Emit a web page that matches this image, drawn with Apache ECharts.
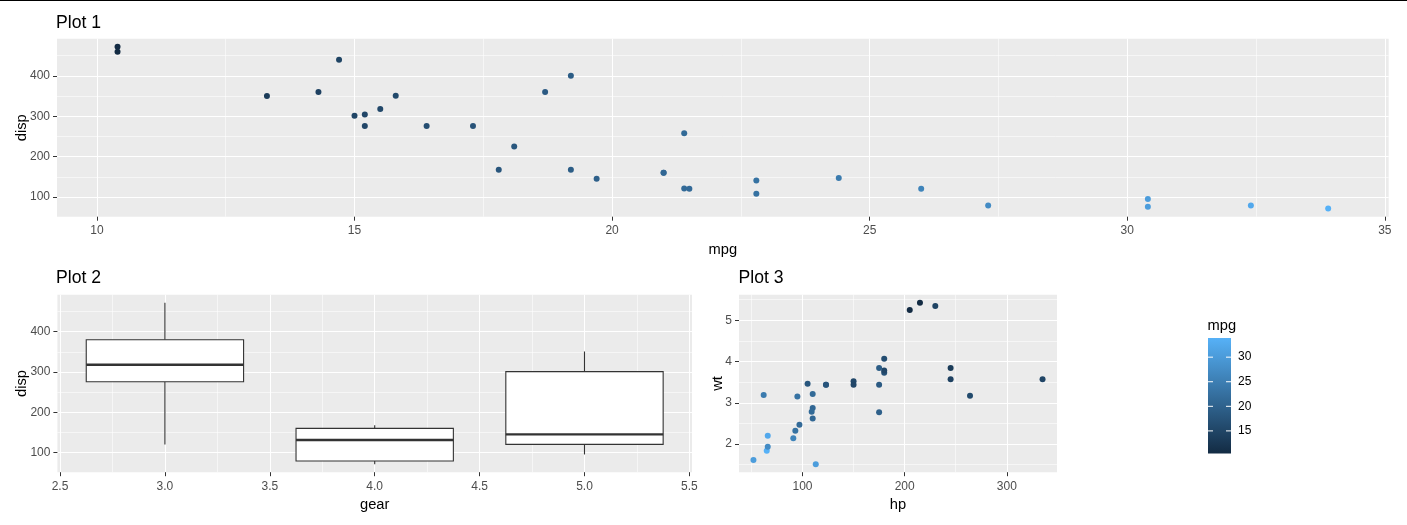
<!DOCTYPE html>
<html>
<head>
<meta charset="utf-8">
<script src="https://cdn.jsdelivr.net/npm/echarts@6/dist/echarts.min.js"></script>
<style>
  html, body { margin: 0; padding: 0; background: #fff; }
  #chart { width: 1407px; height: 525px; }
</style>
</head>
<body>
<div id="chart"></div>
<script>
// mtcars columns (row order of the dataset)
const mpg = [21.0, 21.0, 22.8, 21.4, 18.7, 18.1, 14.3, 24.4, 22.8, 19.2, 17.8, 16.4, 17.3, 15.2, 10.4, 10.4,
             14.7, 32.4, 30.4, 33.9, 21.5, 15.5, 15.2, 13.3, 19.2, 27.3, 26.0, 30.4, 15.8, 19.7, 15.0, 21.4];
const disp = [160, 160, 108, 258, 360, 225, 360, 146.7, 140.8, 167.6, 167.6, 275.8, 275.8, 275.8, 472, 460,
              440, 78.7, 75.7, 71.1, 120.1, 318, 304, 350, 400, 79, 120.3, 95.1, 351, 145, 301, 121];
const hp = [110, 110, 93, 110, 175, 105, 245, 62, 95, 123, 123, 180, 180, 180, 205, 215,
            230, 66, 52, 65, 97, 150, 150, 245, 175, 66, 91, 113, 264, 175, 335, 109];
const wt = [2.620, 2.875, 2.320, 3.215, 3.440, 3.460, 3.570, 3.190, 3.150, 3.440, 3.440, 4.070, 3.730, 3.780, 5.250, 5.424,
            5.345, 2.200, 1.615, 1.835, 2.465, 3.520, 3.435, 3.840, 3.845, 1.935, 2.140, 1.513, 3.170, 2.770, 3.570, 2.780];
const gear = [4, 4, 4, 3, 3, 3, 3, 4, 4, 4, 4, 3, 3, 3, 3, 3, 3, 4, 4, 4, 3, 3, 3, 3, 3, 4, 5, 5, 5, 5, 5, 4];
const gearLevels = [3, 4, 5];

// tick labels / grid lines
const p1XTicks = [10, 15, 20, 25, 30, 35];
const p1XMinor = [12.5, 17.5, 22.5, 27.5, 32.5];
const dispTicks = [100, 200, 300, 400];
const dispMinor = [150, 250, 350, 450];
const gearTicks = [2.5, 3, 3.5, 4, 4.5, 5, 5.5];
const gearMinor = [2.75, 3.25, 3.75, 4.25, 4.75, 5.25];
const hpTicks = [100, 200, 300];
const hpMinor = [50, 150, 250];
const wtTicks = [2, 3, 4, 5];
const wtMinor = [1.5, 2.5, 3.5, 4.5, 5.5];
const legendTicks = [15, 20, 25, 30];

const LOW = "#132B43", HIGH = "#56B1F7";
const FONT = "Liberation Sans, Arial, sans-serif";
const BOX_WIDTH = 0.75;

// ggplot-like 5% range expansion
function expand(lo, hi) {
    const pad = (hi - lo) * 0.05;
    return [lo - pad, hi + pad];
}
function quantile(sorted, p) {
    const h = (sorted.length - 1) * p;
    const lo = Math.floor(h);
    const next = lo + 1 < sorted.length ? sorted[lo + 1] : sorted[lo];
    return sorted[lo] + (h - lo) * (next - sorted[lo]);
}

// box stats per gear: [gear, lower whisker, q1, median, q3, upper whisker]
const boxStats = gearLevels.map(g => {
    const v = disp.filter((d, i) => gear[i] === g).sort((a, b) => a - b);
    const q1 = quantile(v, 0.25), med = quantile(v, 0.5), q3 = quantile(v, 0.75);
    const iqr = q3 - q1;
    const lo = Math.min(...v.filter(d => d >= q1 - 1.5 * iqr));
    const hi = Math.max(...v.filter(d => d <= q3 + 1.5 * iqr));
    return [g, lo, q1, med, q3, hi];
});

const mpgMin = Math.min(...mpg), mpgMax = Math.max(...mpg);
const rMpg = expand(mpgMin, mpgMax);
const rDisp = expand(Math.min(...disp), Math.max(...disp));
const rGear = expand(gearLevels[0] - BOX_WIDTH / 2, gearLevels[gearLevels.length - 1] + BOX_WIDTH / 2);
const rHp = expand(Math.min(...hp), Math.max(...hp));
const rWt = expand(Math.min(...wt), Math.max(...wt));

function majorAxis(gridIndex, position, range, ticks, extra) {
    const horizontal = position === "bottom" || position === "top";
    return Object.assign({
        type: "value", gridIndex: gridIndex, position: position,
        min: range[0], max: range[1],
        axisLine: { show: false },
        axisTick: { show: true, length: 4, customValues: ticks, lineStyle: { color: "#333333", width: 1 } },
        axisLabel: { customValues: ticks, color: "#4D4D4D", fontSize: 12, fontFamily: FONT, margin: horizontal ? 8 : 7 },
        splitLine: { show: true, lineStyle: { color: "#ffffff", width: 1.1 } },
        nameLocation: "middle",
        nameMoveOverlap: false,
        nameTextStyle: { color: "#000", fontSize: 14.7, fontFamily: FONT }
    }, extra);
}
function minorAxis(gridIndex, position, range, ticks) {
    return {
        type: "value", gridIndex: gridIndex, position: position,
        min: range[0], max: range[1],
        axisLine: { show: false },
        axisTick: { show: false, customValues: ticks },
        axisLabel: { show: false },
        splitLine: { show: true, lineStyle: { color: "#ffffff", width: 0.55 } }
    };
}

const titleStyle = { color: "#000", fontSize: 17.6, fontWeight: "normal", fontFamily: FONT };
const panel = { show: true, backgroundColor: "#EBEBEB", borderWidth: 0, outerBoundsMode: "none" };

let myChart = echarts.init(document.getElementById("chart"));
let option = {
    animation: false,
    backgroundColor: "#fff",
    title: [
        { text: "Plot 1", left: 56, top: 14, padding: 0, textStyle: titleStyle },
        { text: "Plot 2", left: 56, top: 269, padding: 0, textStyle: titleStyle },
        { text: "Plot 3", left: 738.5, top: 269, padding: 0, textStyle: titleStyle },
        { text: "mpg", left: 1207.5, top: 318, padding: 0,
          textStyle: { color: "#000", fontSize: 14.7, fontWeight: "normal", fontFamily: FONT } }
    ],
    graphic: [
        { type: "rect", left: 0, top: 0, shape: { width: 1407, height: 1 }, style: { fill: "#000" } }
    ],
    grid: [
        Object.assign({ left: 57, top: 38.7, width: 1331.7, height: 178 }, panel),
        Object.assign({ left: 57.4, top: 294.7, width: 634.6, height: 177.5 }, panel),
        Object.assign({ left: 739, top: 294.7, width: 318, height: 177.5 }, panel),
        { left: 1208, top: 338, width: 23, height: 115.5, show: false, outerBoundsMode: "none" }
    ],
    xAxis: [
        majorAxis(0, "bottom", rMpg, p1XTicks, { name: "mpg", nameGap: 25.5 }),
        minorAxis(0, "top", rMpg, p1XMinor),
        majorAxis(1, "bottom", rGear, gearTicks, {
            name: "gear", nameGap: 25.5,
            axisLabel: { customValues: gearTicks, color: "#4D4D4D", fontSize: 12, fontFamily: FONT, margin: 8,
                         formatter: v => Number(v).toFixed(1) }
        }),
        minorAxis(1, "top", rGear, gearMinor),
        majorAxis(2, "bottom", rHp, hpTicks, { name: "hp", nameGap: 25.5 }),
        minorAxis(2, "top", rHp, hpMinor),
        { type: "value", gridIndex: 3, min: 0, max: 1, show: false }
    ],
    yAxis: [
        majorAxis(0, "left", rDisp, dispTicks, { name: "disp", nameGap: 28 }),
        minorAxis(0, "right", rDisp, dispMinor),
        majorAxis(1, "left", rDisp, dispTicks, { name: "disp", nameGap: 28 }),
        minorAxis(1, "right", rDisp, dispMinor),
        majorAxis(2, "left", rWt, wtTicks, { name: "wt", nameGap: 14 }),
        minorAxis(2, "right", rWt, wtMinor),
        {
            type: "value", gridIndex: 3, position: "right", min: mpgMin, max: mpgMax,
            axisLine: { show: false },
            axisTick: { show: false, customValues: legendTicks },
            axisLabel: { customValues: legendTicks, color: "#000", fontSize: 12, fontFamily: FONT, margin: 7 },
            splitLine: { show: false }
        }
    ],
    visualMap: {
        show: false, type: "continuous", min: mpgMin, max: mpgMax,
        dimension: 2, seriesIndex: [0, 2],
        inRange: { color: [LOW, HIGH] }
    },
    series: [
        {
            type: "scatter", xAxisIndex: 0, yAxisIndex: 0, symbolSize: 6, z: 3,
            itemStyle: { opacity: 1 },
            data: mpg.map((m, i) => [m, disp[i], m])
        },
        {
            type: "custom", xAxisIndex: 2, yAxisIndex: 2, z: 3,
            data: boxStats,
            encode: { x: 0, y: [1, 2, 3, 4, 5] },
            renderItem: function (params, api) {
                const x = api.value(0);
                const half = api.size([BOX_WIDTH, 0])[0] / 2;
                const cx = api.coord([x, 0])[0];
                const yLo = api.coord([x, api.value(1)])[1];
                const yQ1 = api.coord([x, api.value(2)])[1];
                const yMed = api.coord([x, api.value(3)])[1];
                const yQ3 = api.coord([x, api.value(4)])[1];
                const yHi = api.coord([x, api.value(5)])[1];
                const line = { stroke: "#333333", lineWidth: 1.1 };
                return {
                    type: "group",
                    children: [
                        { type: "line", shape: { x1: cx, y1: yHi, x2: cx, y2: yQ3 }, style: line },
                        { type: "line", shape: { x1: cx, y1: yQ1, x2: cx, y2: yLo }, style: line },
                        { type: "rect", shape: { x: cx - half, y: yQ3, width: half * 2, height: yQ1 - yQ3 },
                          style: { fill: "#ffffff", stroke: "#333333", lineWidth: 1.1 } },
                        { type: "line", shape: { x1: cx - half, y1: yMed, x2: cx + half, y2: yMed },
                          style: { stroke: "#333333", lineWidth: 2.4 } }
                    ]
                };
            }
        },
        {
            type: "scatter", xAxisIndex: 4, yAxisIndex: 4, symbolSize: 6, z: 3,
            itemStyle: { opacity: 1 },
            data: hp.map((h, i) => [h, wt[i], mpg[i]])
        },
        {
            // colour bar of the mpg legend
            type: "custom", xAxisIndex: 6, yAxisIndex: 6, silent: true,
            data: [[0, mpgMin, mpgMax]],
            renderItem: function (params, api) {
                const cs = params.coordSys;
                const top = api.coord([0, api.value(2)])[1];
                const bottom = api.coord([0, api.value(1)])[1];
                return {
                    type: "rect",
                    shape: { x: cs.x, y: top, width: cs.width, height: bottom - top },
                    style: {
                        fill: new echarts.graphic.LinearGradient(0, 0, 0, 1, [
                            { offset: 0, color: HIGH }, { offset: 1, color: LOW }
                        ])
                    }
                };
            }
        },
        {
            // white tick marks on the colour bar
            type: "custom", xAxisIndex: 6, yAxisIndex: 6, silent: true, z: 4,
            data: legendTicks.map(t => [0, t]),
            renderItem: function (params, api) {
                const cs = params.coordSys;
                const y = api.coord([0, api.value(1)])[1];
                const st = { stroke: "#ffffff", lineWidth: 1 };
                return {
                    type: "group",
                    children: [
                        { type: "line", shape: { x1: cs.x, y1: y, x2: cs.x + 5, y2: y }, style: st },
                        { type: "line", shape: { x1: cs.x + cs.width - 5, y1: y, x2: cs.x + cs.width, y2: y }, style: st }
                    ]
                };
            }
        }
    ]
};
myChart.setOption(option);
</script>
</body>
</html>
